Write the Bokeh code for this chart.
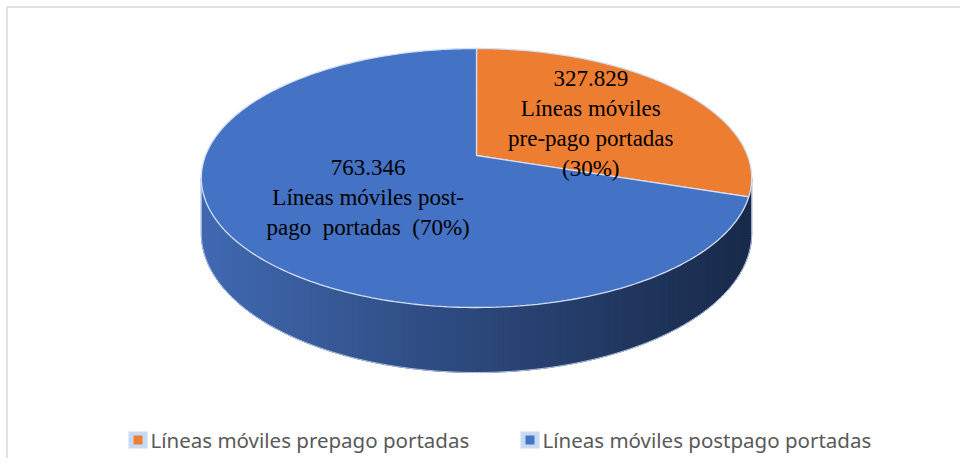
import numpy as np
from bokeh.plotting import figure
from bokeh.models import Range1d
from bokeh.core.properties import value
from bokeh.embed import file_html
from bokeh.resources import INLINE

# ---------------- data ----------------
categories = ["Líneas móviles prepago portadas", "Líneas móviles postpago portadas"]
values = [327829, 763346]
value_labels = ["327.829", "763.346"]
pct_labels = ["(30%)", "(70%)"]
slice_texts = [
    "327.829\nLíneas móviles\npre-pago portadas\n(30%)",
    "763.346\nLíneas móviles post-\npago\u00a0 portadas\u00a0 (70%)",
]
top_colors = ["#ED7D31", "#4472C4"]

# ---------------- geometry (3D perspective pie) ----------------
CX, CY = 476.0, 155.0      # projected centre of the pie top
A, B = 271.0, 125.6        # horizontal / depth radii
K = 0.1737                 # perspective factor
D0 = 53.7                  # thickness
EDGE = "#d3e0f3"


def proj(theta_deg, depth=0.0):
    t = np.radians(theta_deg)
    u, v = np.cos(t), np.sin(t)
    w = 1.0 + K * v
    x = CX + A * u / w
    y = CY - B * v / w + depth * D0 / w
    return x, y


p = figure(width=960, height=458, x_range=Range1d(0, 960), y_range=Range1d(458, 0),
           output_backend="svg", toolbar_location=None, min_border=0)
p.axis.visible = False
p.grid.visible = False
p.outline_line_color = None
p.background_fill_color = "white"
p.border_fill_color = "white"

# chart border (top and left)
p.line([6.5, 960], [6.5, 6.5], line_color="#d9d9d9", line_width=1.5)
p.line([6.5, 6.5], [6.5, 458], line_color="#d9d9d9", line_width=1.5)

# ---------------- side (front rim) with gradient ----------------
total = float(sum(values))
fracs = [v / total for v in values]
a_ext = np.degrees(np.arcsin(K))
th = np.linspace(180 + a_ext, 360 - a_ext, 241)
xt, yt = proj(th)
xb, yb = proj(th, 1.0)

# base body of the side (prevents seams between strips)
p.patch(list(xt) + list(xb[::-1]), list(yt) + list(yb[::-1]),
        fill_color="#2c4a80", line_color="#2c4a80", line_width=1)

left_c = np.array([66, 107, 180])
right_c = np.array([25, 42, 74])
xmin, xmax = xt.min(), xt.max()
sx, sy, sc = [], [], []
n = len(th)
for i in range(n - 1):
    j = min(i + 2, n - 1)
    sx.append([xt[i], xt[j], xb[j], xb[i]])
    sy.append([yt[i], yt[j], yb[j], yb[i]])
    f = ((xt[i] + xt[i + 1]) / 2 - xmin) / (xmax - xmin)
    f = f ** 0.9
    c = (left_c * (1 - f) + right_c * f).astype(int)
    sc.append("#%02x%02x%02x" % tuple(c))
p.patches(sx, sy, fill_color=sc, line_color=None)
# outline of the side
p.line(list(xb), list(yb), line_color="#b8c8e6", line_width=1)
p.line([xt[0], xb[0]], [yt[0], yb[0]], line_color="#b8c8e6", line_width=1)
p.line([xt[-1], xb[-1]], [yt[-1], yb[-1]], line_color="#b8c8e6", line_width=1)

# ---------------- top slices ----------------
start = 90.0
txs, tys = [], []
mids = []
for f in fracs:
    end = start - 360.0 * f
    ang = np.linspace(start, end, 240)
    ax, ay = proj(ang)
    txs.append([CX] + list(ax))
    tys.append([CY] + list(ay))
    mids.append((start + end) / 2)
    start = end
p.patches(txs, tys, fill_color=top_colors, line_color=EDGE, line_width=1.3)

# ---------------- data labels ----------------
radii = [0.55, 0.47]
lx, ly = [], []
for m, r in zip(mids, radii):
    t = np.radians(m)
    u, v = r * np.cos(t), r * np.sin(t)
    w = 1.0 + K * v
    lx.append(CX + A * u / w)
    ly.append(CY - B * v / w)
p.text(x=lx[:1], y=ly[:1], text=slice_texts[:1], text_font=value("Liberation Serif"),
       text_font_size="23px", text_align="center", text_baseline="middle",
       text_color="black", text_line_height=1.2, y_offset=6)
p.text(x=lx[1:], y=ly[1:], text=slice_texts[1:], text_font=value("Liberation Serif"),
       text_font_size="23px", text_align="center", text_baseline="middle",
       text_color="black", text_line_height=1.2, y_offset=6)

# ---------------- legend ----------------
leg_x = [128, 520]
leg_y = 439.5
p.quad(left=[x for x in leg_x], right=[x + 19 for x in leg_x],
       top=[leg_y - 8.5] * 2, bottom=[leg_y + 8.5] * 2,
       fill_color="#c6dbf3", line_color=None)
p.quad(left=[x + 5 for x in leg_x], right=[x + 14 for x in leg_x],
       top=[leg_y - 4.5] * 2, bottom=[leg_y + 4.5] * 2,
       fill_color=top_colors, line_color=None)
p.text(x=[x + 22 for x in leg_x], y=[leg_y] * 2, text=categories,
       text_font=value("Noto Sans"), text_font_size="20.5px",
       text_align="left", text_baseline="middle", text_color="#595959")

open("out.html", "w").write(file_html(p, INLINE))
